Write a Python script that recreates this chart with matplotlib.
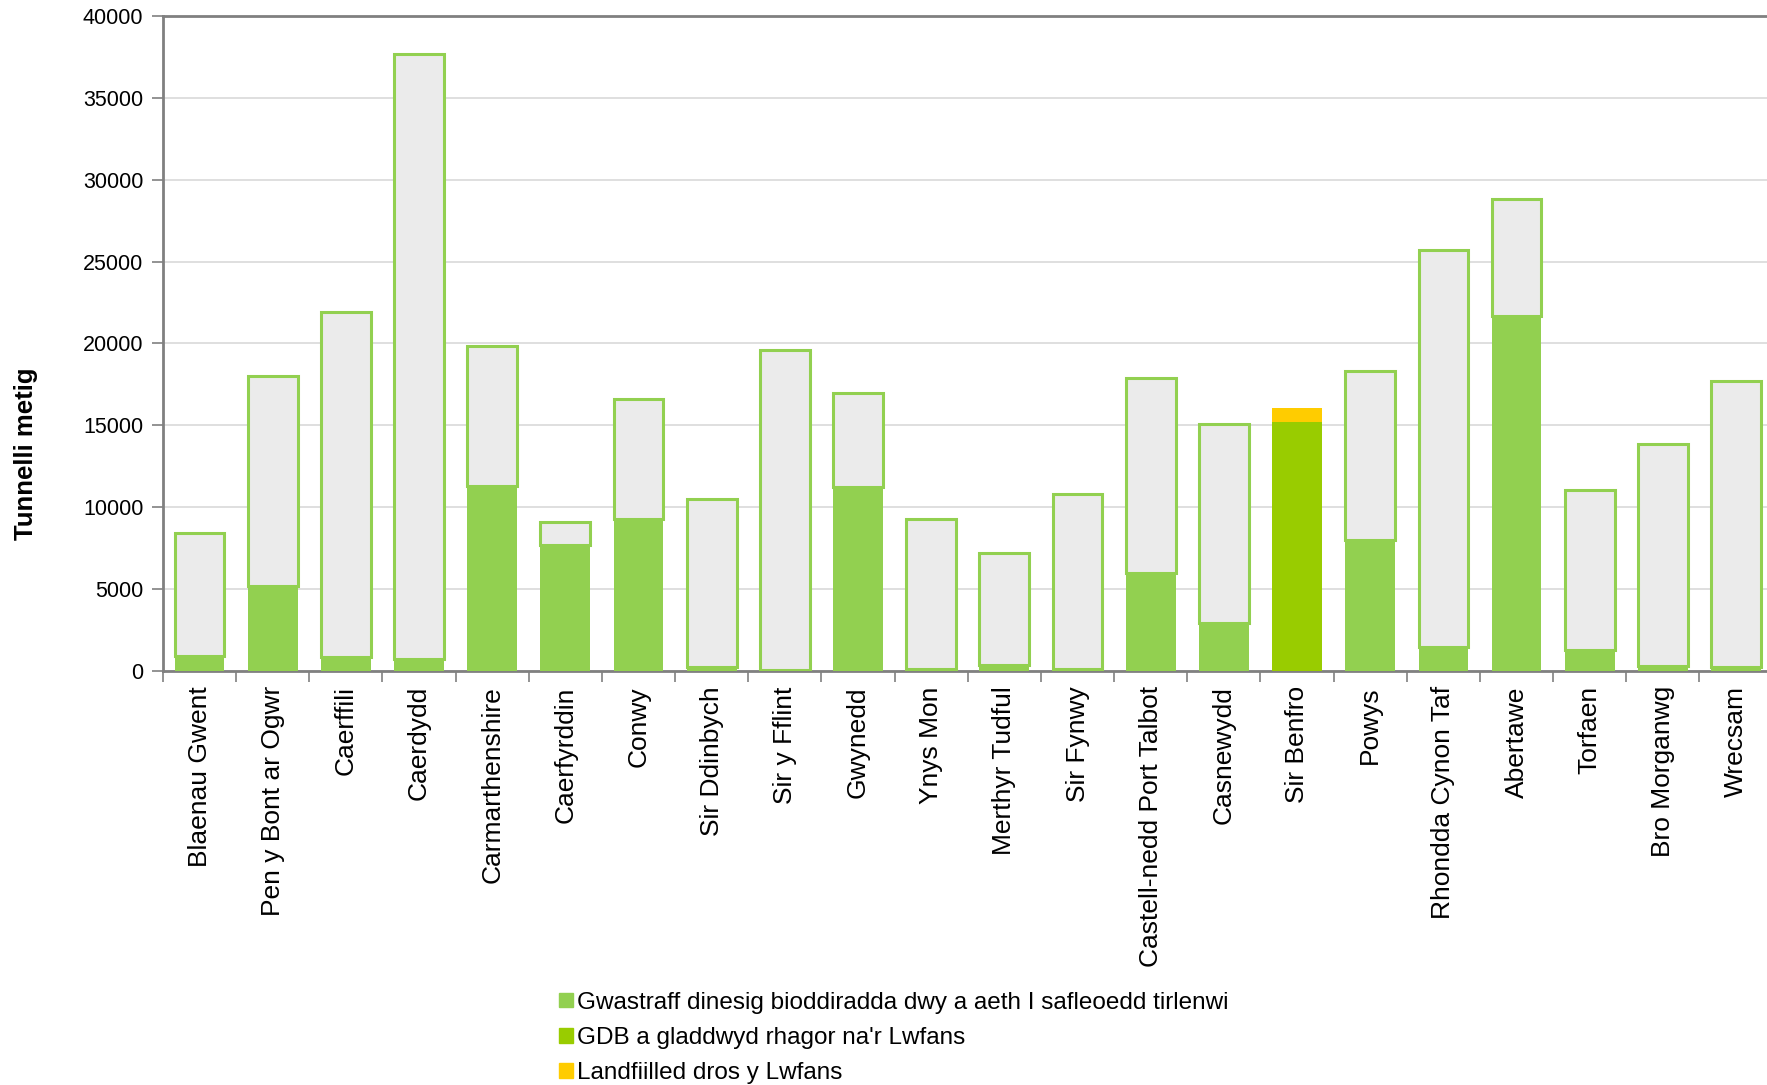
import numpy as np
import matplotlib
matplotlib.use("Agg")
import matplotlib.pyplot as plt
from matplotlib.patches import Patch

plt.rcParams['font.family'] = ['Liberation Sans', 'DejaVu Sans']

councils = ['Blaenau Gwent', 'Pen y Bont ar Ogwr', 'Caerffili', 'Caerdydd',
            'Carmarthenshire', 'Caerfyrddin', 'Conwy', 'Sir Ddinbych',
            'Sir y Fflint', 'Gwynedd', 'Ynys Mon', 'Merthyr Tudful', 'Sir Fynwy',
            'Castell-nedd Port Talbot', 'Casnewydd', 'Sir Benfro', 'Powys',
            'Rhondda Cynon Taf', 'Abertawe', 'Torfaen', 'Bro Morganwg', 'Wrecsam']

# allowance (outlined bar height) and BMW actually landfilled, tonnes
allowance = [8400, 18000, 21900, 37700, 19850, 9100, 16600, 10500,
             19600, 16950, 9300, 7200, 10800, 17900, 15100, 15200, 18300,
             25700, 28800, 11050, 13850, 17700]
landfilled = [900, 5200, 850, 750, 11300, 7700, 9250, 250,
              50, 11250, 100, 350, 100, 6000, 2900, 16050, 8000,
              1450, 21700, 1250, 300, 250]

labels = ['Gwastraff dinesig bioddiradda dwy a aeth I safleoedd tirlenwi',
          "GDB a gladdwyd rhagor na'r Lwfans",
          'Landfiilled dros y Lwfans']

allowance = np.array(allowance)
landfilled = np.array(landfilled)
over = landfilled > allowance

within = np.where(over, 0, landfilled)
upto = np.where(over, allowance, 0)
excess = np.where(over, landfilled - allowance, 0)
remaining = np.where(over, 0, allowance - landfilled)

c_green = '#92D050'
c_dark = '#99CC00'
c_yellow = '#FFCC00'
c_grey = '#EBEBEB'

fig = plt.figure(figsize=(17.67, 10.85), dpi=100)
ax = fig.add_axes([0.0922, 0.3816, 0.911, 0.6038])

x = np.arange(len(councils))
w = 0.68
ax.bar(x, within, w, color=c_green, zorder=3)
ax.bar(x, upto, w, bottom=within, color=c_dark, zorder=3)
ax.bar(x, excess, w, bottom=within + upto, color=c_yellow, zorder=3)
ax.bar(x[~over], remaining[~over], w, bottom=within[~over], color=c_grey,
       edgecolor=c_green, linewidth=2.2, zorder=3)

ax.set_ylim(0, 40000)
ax.set_xlim(-0.5, len(councils) - 0.5)
ax.set_yticks(np.arange(0, 40001, 5000))
ax.yaxis.grid(True, color='#D9D9D9', linewidth=1.2, zorder=0)

ax.set_xticks(x)
ax.set_xticklabels(councils, rotation=90, va='top', ha='center', fontsize=19)
ax.set_xticks(np.arange(-0.5, len(councils), 1), minor=True)
ax.tick_params(axis='x', which='major', length=0, pad=11)
ax.tick_params(axis='x', which='minor', length=8, width=1.2, color='#808080')
ax.tick_params(axis='y', length=8, width=1.2, color='#808080', labelsize=15.5, pad=6)

for s in ['left', 'bottom', 'top']:
    ax.spines[s].set_color('#808080')
    ax.spines[s].set_linewidth(2)
ax.spines['right'].set_visible(False)

fig.text(0.0145, 0.582, 'Tunnelli metig', rotation=90, fontsize=18.5,
         fontweight='bold', ha='center', va='center')

handles = [Patch(color=c_green), Patch(color=c_dark), Patch(color=c_yellow)]
fig.legend(handles, labels, loc='upper left', bbox_to_anchor=(0.311, 0.095),
           frameon=False, fontsize=17.5, handlelength=0.55, handleheight=0.55,
           handletextpad=0.2, labelspacing=0.55, borderaxespad=0)

fig.savefig('out.png', dpi=100)
